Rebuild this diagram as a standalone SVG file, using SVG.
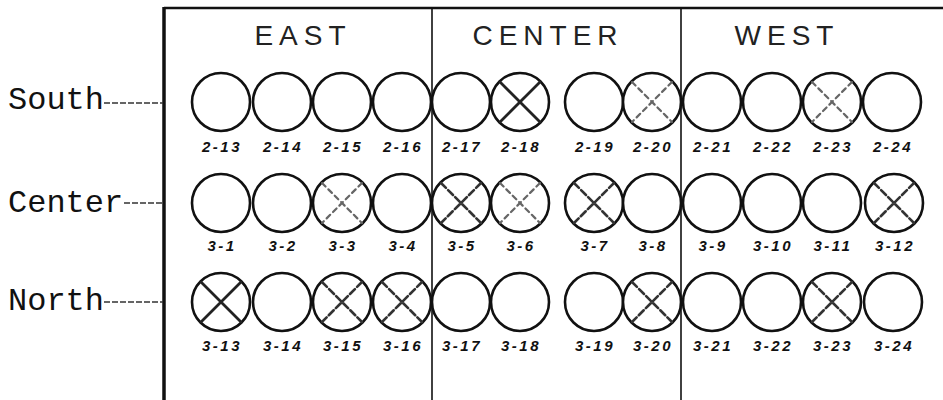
<svg xmlns="http://www.w3.org/2000/svg" width="943" height="400" viewBox="0 0 943 400">
<style>
.frame{stroke:#111;fill:none}
.c{fill:#fff;stroke:#111;stroke-width:2.6}
.x{stroke:#333;stroke-width:2.6;stroke-dasharray:7 3;stroke-linecap:round}
.xs{stroke:#222;stroke-width:2.8;stroke-linecap:round}
.xf{stroke:#666;stroke-width:2.2;stroke-dasharray:5 4;stroke-linecap:round}
.hd{font-family:"Liberation Sans",Arial,sans-serif;font-size:28px;letter-spacing:6px;fill:#222;text-anchor:middle}
.rl{font-family:"Liberation Mono","Courier New",monospace;font-size:32px;fill:#111}
.lb{font-family:"Liberation Sans",Arial,sans-serif;font-size:15px;font-weight:bold;font-style:italic;letter-spacing:2.5px;fill:#111;text-anchor:middle}
.ld{stroke:#333;stroke-width:1.5;stroke-dasharray:6 2}
</style>
<rect width="943" height="400" fill="#fff"/>
<g id="frame">
<line class="frame" x1="164" y1="8" x2="943" y2="8" stroke-width="2.5"/>
<line class="frame" x1="164" y1="7" x2="164" y2="400" stroke-width="3.5"/>
<line class="frame" x1="432" y1="8" x2="432" y2="400" stroke-width="1.6"/>
<line class="frame" x1="681" y1="8" x2="681" y2="400" stroke-width="1.6"/>
<text class="hd" x="303" y="45">EAST</text>
<text class="hd" x="548" y="45">CENTER</text>
<text class="hd" x="787" y="45">WEST</text>
</g>
<g id="row-labels">
<text class="rl" x="8" y="109">South</text>
<text class="rl" x="8" y="212">Center</text>
<text class="rl" x="8" y="310">North</text>
</g>
<g id="connectors">
<line class="ld" x1="104" y1="103" x2="163" y2="103"/>
<line class="ld" x1="124" y1="203" x2="163" y2="203"/>
<line class="ld" x1="104" y1="302" x2="163" y2="302"/>
</g>
<!-- South row -->
<g id="s2-13"><circle class="c" cx="221" cy="102" r="29"/><text class="lb" x="222" y="152">2-13</text></g>
<g id="s2-14"><circle class="c" cx="282" cy="102" r="29"/><text class="lb" x="283" y="152">2-14</text></g>
<g id="s2-15"><circle class="c" cx="342" cy="102" r="29"/><text class="lb" x="343" y="152">2-15</text></g>
<g id="s2-16"><circle class="c" cx="402" cy="102" r="29"/><text class="lb" x="403" y="152">2-16</text></g>
<g id="s2-17"><circle class="c" cx="461" cy="102" r="29"/><text class="lb" x="462" y="152">2-17</text></g>
<g id="s2-18"><circle class="c" cx="520" cy="102" r="29"/><path class="xs" d="M500 82L540 122M540 82L500 122"/><text class="lb" x="521" y="152">2-18</text></g>
<g id="s2-19"><circle class="c" cx="594" cy="102" r="29"/><text class="lb" x="595" y="152">2-19</text></g>
<g id="s2-20"><circle class="c" cx="652" cy="102" r="29"/><path class="xf" d="M632 82L672 122M672 82L632 122"/><text class="lb" x="653" y="152">2-20</text></g>
<g id="s2-21"><circle class="c" cx="712" cy="102" r="29"/><text class="lb" x="713" y="152">2-21</text></g>
<g id="s2-22"><circle class="c" cx="772" cy="102" r="29"/><text class="lb" x="773" y="152">2-22</text></g>
<g id="s2-23"><circle class="c" cx="832" cy="102" r="29"/><path class="xf" d="M812 82L852 122M852 82L812 122"/><text class="lb" x="833" y="152">2-23</text></g>
<g id="s2-24"><circle class="c" cx="892" cy="102" r="29"/><text class="lb" x="893" y="152">2-24</text></g>
<!-- Center row -->
<g id="c3-1"><circle class="c" cx="221" cy="203" r="29"/><text class="lb" x="222" y="251">3-1</text></g>
<g id="c3-2"><circle class="c" cx="282" cy="203" r="29"/><text class="lb" x="283" y="251">3-2</text></g>
<g id="c3-3"><circle class="c" cx="342" cy="203" r="29"/><path class="xf" d="M322 183L362 223M362 183L322 223"/><text class="lb" x="343" y="251">3-3</text></g>
<g id="c3-4"><circle class="c" cx="402" cy="203" r="29"/><text class="lb" x="403" y="251">3-4</text></g>
<g id="c3-5"><circle class="c" cx="461" cy="203" r="29"/><path class="x" d="M441 183L481 223M481 183L441 223"/><text class="lb" x="462" y="251">3-5</text></g>
<g id="c3-6"><circle class="c" cx="520" cy="203" r="29"/><path class="xf" d="M500 183L540 223M540 183L500 223"/><text class="lb" x="521" y="251">3-6</text></g>
<g id="c3-7"><circle class="c" cx="594" cy="203" r="29"/><path class="x" d="M574 183L614 223M614 183L574 223"/><text class="lb" x="595" y="251">3-7</text></g>
<g id="c3-8"><circle class="c" cx="652" cy="203" r="29"/><text class="lb" x="653" y="251">3-8</text></g>
<g id="c3-9"><circle class="c" cx="712" cy="203" r="29"/><text class="lb" x="713" y="251">3-9</text></g>
<g id="c3-10"><circle class="c" cx="772" cy="203" r="29"/><text class="lb" x="773" y="251">3-10</text></g>
<g id="c3-11"><circle class="c" cx="832" cy="203" r="29"/><text class="lb" x="833" y="251">3-11</text></g>
<g id="c3-12"><circle class="c" cx="894" cy="203" r="29"/><path class="x" d="M874 183L914 223M914 183L874 223"/><text class="lb" x="895" y="251">3-12</text></g>
<!-- North row -->
<g id="n3-13"><circle class="c" cx="221" cy="302" r="29"/><path class="xs" d="M201 282L241 322M241 282L201 322"/><text class="lb" x="222" y="351">3-13</text></g>
<g id="n3-14"><circle class="c" cx="282" cy="302" r="29"/><text class="lb" x="283" y="351">3-14</text></g>
<g id="n3-15"><circle class="c" cx="342" cy="302" r="29"/><path class="x" d="M322 282L362 322M362 282L322 322"/><text class="lb" x="343" y="351">3-15</text></g>
<g id="n3-16"><circle class="c" cx="402" cy="302" r="29"/><path class="x" d="M382 282L422 322M422 282L382 322"/><text class="lb" x="403" y="351">3-16</text></g>
<g id="n3-17"><circle class="c" cx="461" cy="302" r="29"/><text class="lb" x="462" y="351">3-17</text></g>
<g id="n3-18"><circle class="c" cx="520" cy="302" r="29"/><text class="lb" x="521" y="351">3-18</text></g>
<g id="n3-19"><circle class="c" cx="594" cy="302" r="29"/><text class="lb" x="595" y="351">3-19</text></g>
<g id="n3-20"><circle class="c" cx="652" cy="302" r="29"/><path class="x" d="M632 282L672 322M672 282L632 322"/><text class="lb" x="653" y="351">3-20</text></g>
<g id="n3-21"><circle class="c" cx="712" cy="302" r="29"/><text class="lb" x="713" y="351">3-21</text></g>
<g id="n3-22"><circle class="c" cx="772" cy="302" r="29"/><text class="lb" x="773" y="351">3-22</text></g>
<g id="n3-23"><circle class="c" cx="832" cy="302" r="29"/><path class="x" d="M812 282L852 322M852 282L812 322"/><text class="lb" x="833" y="351">3-23</text></g>
<g id="n3-24"><circle class="c" cx="893" cy="302" r="29"/><text class="lb" x="894" y="351">3-24</text></g>
</svg>
